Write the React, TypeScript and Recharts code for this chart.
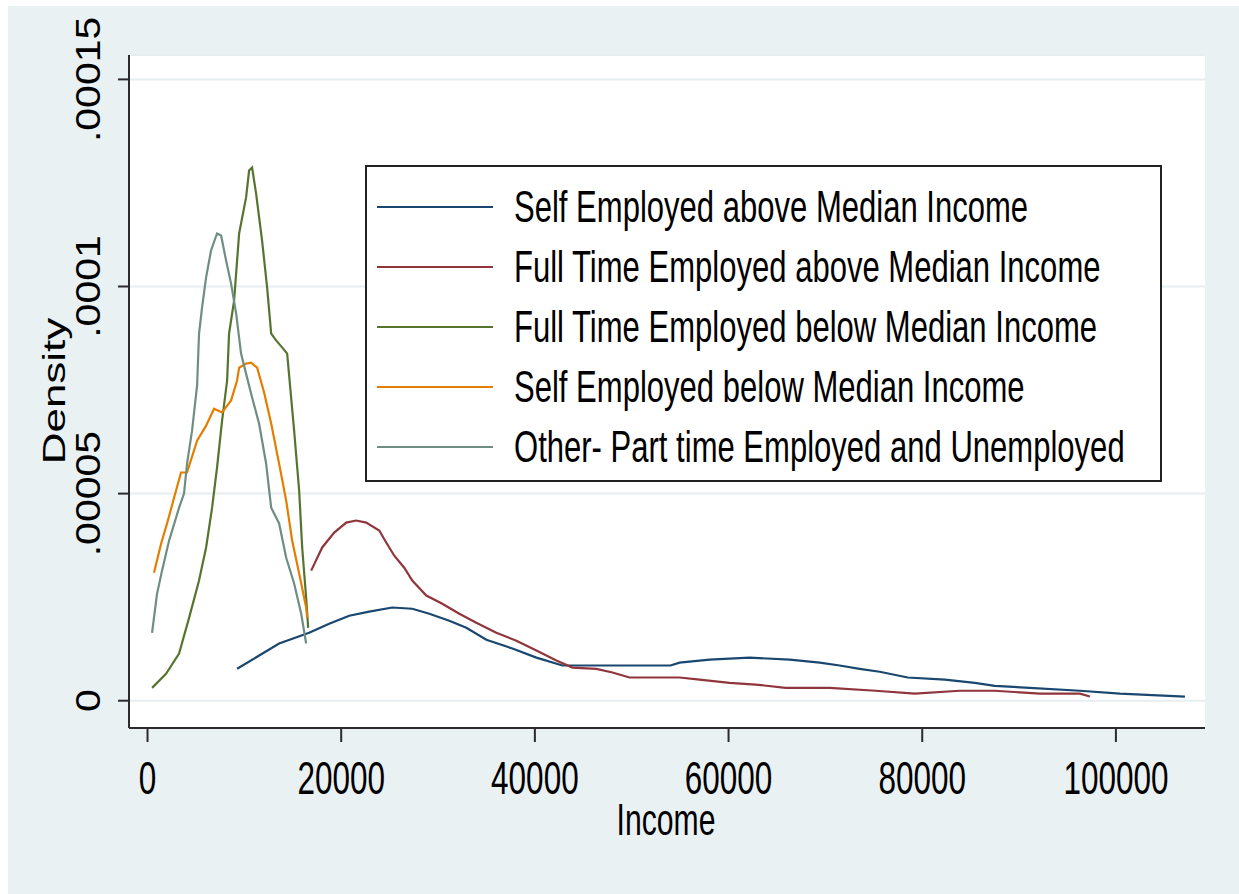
import React from 'react';
import { LineChart, Line, XAxis, YAxis, CartesianGrid, Legend } from 'recharts';

// density values are in units of 1e-5
const xTicks = [0, 20000, 40000, 60000, 80000, 100000];
const yTicks = [0, 5, 10, 15];
const yTickLabels = ['0', '.00005', '.0001', '.00015'];

const seriesNames = [
  'Self Employed above Median Income',
  'Full Time Employed above Median Income',
  'Full Time Employed below Median Income',
  'Self Employed below Median Income',
  'Other- Part time Employed and Unemployed',
];
const seriesColors = ['#1a476f', '#90353b', '#55752f', '#e37e00', '#6e8e84'];

const selfAboveIncome = [9250, 13590, 16690, 18760, 20830, 22890, 25270, 27340, 29100, 31160, 32920, 34990, 37680, 40160, 42840, 46670, 54010, 54940, 58040, 62170, 66310, 69410, 71470, 73540, 75610, 78500, 82330, 85430, 87490, 91110, 96280, 100410, 107130];
const selfAboveDensity = [0.77, 1.38, 1.64, 1.86, 2.05, 2.15, 2.25, 2.22, 2.10, 1.93, 1.76, 1.47, 1.26, 1.04, 0.85, 0.85, 0.85, 0.92, 0.99, 1.04, 0.99, 0.92, 0.85, 0.77, 0.70, 0.56, 0.51, 0.43, 0.36, 0.31, 0.24, 0.17, 0.10];

const fullAboveIncome = [16900, 18040, 19280, 20520, 21550, 22580, 23930, 24650, 25480, 26510, 27340, 28790, 30440, 32200, 33950, 36020, 38090, 40160, 42220, 43880, 46360, 48010, 49770, 54940, 57000, 60100, 62790, 65890, 70440, 75190, 79230, 83880, 87490, 92150, 96280, 97310];
const fullAboveDensity = [3.14, 3.70, 4.06, 4.30, 4.35, 4.30, 4.11, 3.82, 3.50, 3.21, 2.90, 2.54, 2.34, 2.10, 1.88, 1.64, 1.45, 1.21, 0.97, 0.80, 0.77, 0.68, 0.56, 0.56, 0.51, 0.43, 0.39, 0.31, 0.31, 0.24, 0.17, 0.24, 0.24, 0.17, 0.17, 0.10];

const fullBelowIncome = [470, 1910, 3260, 4290, 5320, 6050, 6670, 7180, 7700, 8220, 8420, 8940, 9460, 10180, 10490, 10800, 11210, 11830, 12350, 12770, 13280, 13900, 14420, 14830, 15140, 15660, 15970, 16380, 16590];
const fullBelowDensity = [0.31, 0.65, 1.14, 2.00, 2.90, 3.70, 4.66, 5.63, 6.76, 7.73, 8.86, 9.66, 11.28, 12.15, 12.80, 12.87, 12.25, 11.11, 9.98, 8.86, 8.70, 8.53, 8.38, 7.32, 6.52, 5.07, 3.70, 2.49, 1.76];

const selfBelowIncome = [670, 1400, 2020, 2740, 3460, 4080, 5120, 6050, 6870, 7700, 8630, 9250, 9460, 10180, 10700, 11320, 12040, 12770, 13590, 14320, 14940, 15660, 16380, 16490];
const selfBelowDensity = [3.09, 3.79, 4.28, 4.90, 5.51, 5.51, 6.28, 6.64, 7.05, 6.96, 7.25, 7.73, 8.04, 8.14, 8.16, 8.04, 7.44, 6.69, 5.72, 4.83, 3.86, 3.07, 2.25, 2.00];

const otherIncome = [470, 980, 1500, 2220, 3260, 3770, 4080, 4600, 5120, 5320, 5630, 6050, 6560, 7180, 7600, 8110, 8630, 9150, 9660, 10280, 10800, 11520, 12250, 12770, 13590, 14320, 15140, 15870, 16380];
const otherDensity = [1.64, 2.58, 3.14, 3.86, 4.66, 5.00, 5.72, 6.52, 7.61, 8.86, 9.49, 10.22, 10.87, 11.28, 11.23, 10.63, 10.07, 9.35, 8.38, 7.80, 7.32, 6.69, 5.72, 4.66, 4.28, 3.45, 2.83, 2.10, 1.38];

const toPoints = (xs: number[], ys: number[]) => xs.map((x, i) => ({ income: x, density: ys[i] }));

const series = [
  toPoints(selfAboveIncome, selfAboveDensity),
  toPoints(fullAboveIncome, fullAboveDensity),
  toPoints(fullBelowIncome, fullBelowDensity),
  toPoints(selfBelowIncome, selfBelowDensity),
  toPoints(otherIncome, otherDensity),
];

const FONT = "'Liberation Sans', Arial, sans-serif";
const AXIS = '#2b2b2b';

const XTick = (props: any) => {
  const { x, y, payload } = props;
  return (
    <text transform={`translate(${x},${y + 50}) scale(0.67,1)`} textAnchor="middle" fontSize={47} fontFamily={FONT} fill="#000">
      {payload.value}
    </text>
  );
};

const YTick = (props: any) => {
  const { x, y, payload } = props;
  const label = yTickLabels[yTicks.indexOf(payload.value)];
  return (
    <text transform={`translate(${x - 16},${y}) scale(0.85,1) rotate(-90)`} textAnchor="middle" fontSize={41} fontFamily={FONT} fill="#000">
      {label}
    </text>
  );
};

const renderLegend = (props: any) => {
  const payload = [...(props.payload || [])].sort(
    (a: any, b: any) => seriesNames.indexOf(a.value) - seriesNames.indexOf(b.value)
  );
  return (
    <svg width={797} height={317} style={{ display: 'block' }}>
      <rect x={1} y={1} width={795} height={315} fill="#fff" stroke="#222" strokeWidth={2} />
      {payload.map((entry: any, i: number) => (
        <g key={entry.value}>
          <line x1={12} x2={128} y1={42 + 60 * i} y2={42 + 60 * i} stroke={entry.color} strokeWidth={2.2} />
          <text transform={`translate(149,${57 + 60 * i}) scale(0.69,1)`} fontSize={45} fontFamily={FONT} fill="#000">
            {entry.value}
          </text>
        </g>
      ))}
    </svg>
  );
};

export default function App() {
  return (
    <div style={{ position: 'fixed', left: 0, top: 0, width: 1239, height: 894, background: '#fff', overflow: 'hidden' }}>
      <div style={{ position: 'absolute', left: 8, top: 6, right: 0, bottom: 0, background: '#e9f1f3' }} />
      <div style={{ position: 'absolute', left: 0, top: 0 }}>
        <LineChart width={1239} height={894} margin={{ top: 55, right: 34, bottom: 86, left: 69 }}>
          <CartesianGrid vertical={false} fill="#fff" stroke="#e6eef1" strokeWidth={2} />
          <XAxis
            type="number"
            dataKey="income"
            domain={[-1912, 109200]}
            allowDataOverflow
            ticks={xTicks}
            height={80}
            tickSize={14}
            axisLine={{ stroke: AXIS, strokeWidth: 2 }}
            tickLine={{ stroke: AXIS, strokeWidth: 2 }}
            tick={<XTick />}
            label={{
              content: () => (
                <text transform="translate(666,835) scale(0.67,1)" textAnchor="middle" fontSize={45} fontFamily={FONT} fill="#000">
                  Income
                </text>
              ),
            }}
          />
          <YAxis
            type="number"
            domain={[-0.659, 15.589]}
            allowDataOverflow
            ticks={yTicks}
            width={60}
            tickSize={11}
            axisLine={{ stroke: AXIS, strokeWidth: 2 }}
            tickLine={{ stroke: AXIS, strokeWidth: 2 }}
            tick={<YTick />}
            label={{
              content: () => (
                <text transform="translate(65,391) scale(0.73,1) rotate(-90)" textAnchor="middle" fontSize={44} fontFamily={FONT} fill="#000">
                  Density
                </text>
              ),
            }}
          />
          <Legend
            layout="horizontal"
            verticalAlign="middle"
            align="center"
            wrapperStyle={{ left: 365, top: 165, width: 797, height: 317 }}
            content={renderLegend}
          />
          {series.map((pts, i) => (
            <Line
              key={seriesNames[i]}
              data={pts}
              dataKey="density"
              name={seriesNames[i]}
              type="linear"
              stroke={seriesColors[i]}
              strokeWidth={2.2}
              dot={false}
              isAnimationActive={false}
            />
          ))}
        </LineChart>
      </div>
    </div>
  );
}
